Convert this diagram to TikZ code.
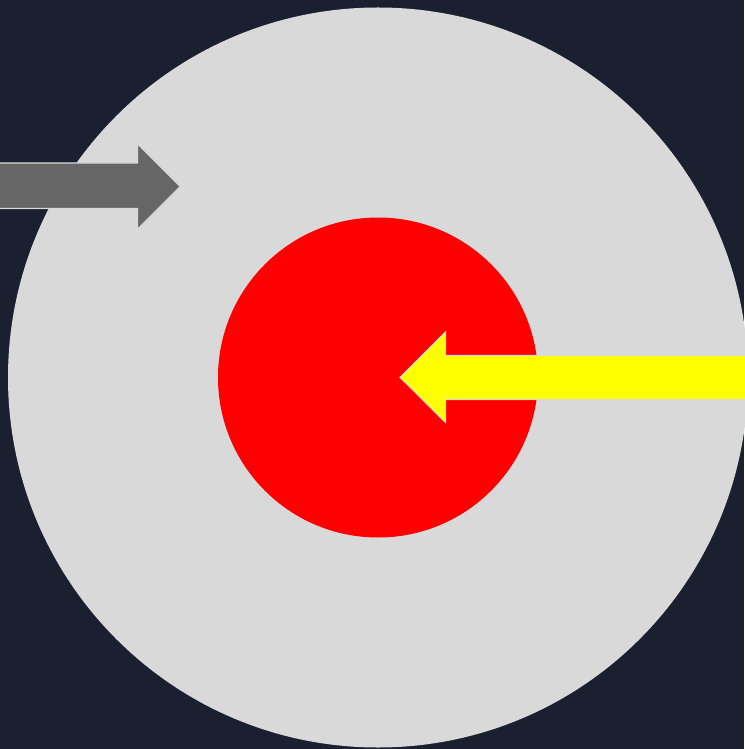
\documentclass[tikz,border=0pt]{standalone}
\usetikzlibrary{shapes.geometric}
\definecolor{bgnavy}{HTML}{1B2030}
\definecolor{lightgray}{HTML}{D9D9D9}
\definecolor{arrowgray}{HTML}{666666}
\definecolor{pureyellow}{RGB}{255,255,0}
\definecolor{purered}{RGB}{255,0,0}
\begin{document}
\begin{tikzpicture}[x=0.02cm,y=-0.02cm,
  disc/.style={circle,inner sep=0pt,draw=none},
  arrowshape/.style={draw=lightgray,line width=0.6pt,line join=miter}]
\fill[bgnavy] (0,0) rectangle (744,749);
\useasboundingbox (0,0) rectangle (744,749);
\node[disc,fill=lightgray,minimum size=740*0.02cm] (outer) at (378,377.5) {};
\node[disc,fill=purered,minimum size=320*0.02cm] (inner) at (378,377.5) {};
% gray arrow pointing right
\filldraw[arrowshape,fill=arrowgray] (-2,163) -- (137.5,163) -- (137.5,144) -- (180,186.5) -- (137.5,229) -- (137.5,208.5) -- (-2,208.5) -- cycle;
% yellow arrow pointing left
\filldraw[arrowshape,fill=pureyellow] (746,355.5) -- (445.7,355.5) -- (445.7,331.7) -- (400,377.3) -- (445.7,422.7) -- (445.7,399.5) -- (746,399.5) -- cycle;
\end{tikzpicture}
\end{document}
